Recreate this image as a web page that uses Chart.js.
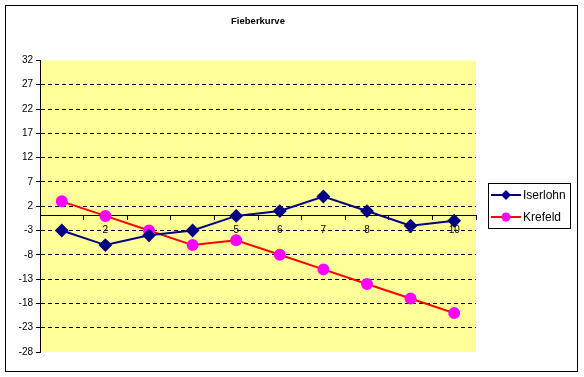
<!DOCTYPE html>
<html>
<head>
<meta charset="utf-8">
<script src="https://cdn.jsdelivr.net/npm/chart.js@4"></script>
<style>
  body { margin: 0; background: #fff; }
  canvas { display: block; }
</style>
</head>
<body>
<canvas id="fieberChart" width="584" height="377"></canvas>
<script>
"use strict";

const categories = ['1', '2', '3', '4', '5', '6', '7', '8', '9', '10'];
const iserlohn = [-3, -6, -4, -3, 0, 1, 4, 1, -2, -1];
const krefeld = [3, 0, -3, -6, -5, -8, -11, -14, -17, -20];
const yMin = -28;
const yMax = 32;
const yStep = 5;

const FONT = "'Liberation Sans', Arial, sans-serif";

// yellow plot area + outer frame + legend box (Excel look)
const excelFrame = {
  id: 'excelFrame',
  beforeDraw: (chart) => {
    const { ctx, chartArea } = chart;
    ctx.save();
    ctx.fillStyle = '#ffff99';
    ctx.fillRect(chartArea.left, chartArea.top, chartArea.right - chartArea.left, chartArea.bottom - chartArea.top);
    ctx.restore();
  },
  afterDraw: (chart) => {
    const { ctx } = chart;
    ctx.save();
    ctx.strokeStyle = '#000';
    ctx.lineWidth = 1;
    ctx.strokeRect(5.5, 5.5, 572, 366);

    // legend
    const lx = 488, ly = 183, lw = 82, lh = 45;
    ctx.fillStyle = '#fff';
    ctx.fillRect(lx, ly, lw, lh);
    ctx.strokeRect(lx + 0.5, ly + 0.5, lw, lh);
    ctx.font = '12px ' + FONT;
    ctx.textBaseline = 'middle';
    chart.data.datasets.forEach((ds, i) => {
      const y = ly + 12 + i * 22;
      ctx.strokeStyle = ds.borderColor;
      ctx.lineWidth = 2;
      ctx.beginPath();
      ctx.moveTo(lx + 3, y);
      ctx.lineTo(lx + 33, y);
      ctx.stroke();
      ctx.fillStyle = ds.pointBackgroundColor;
      ctx.beginPath();
      if (ds.pointStyle === 'rectRot') {
        ctx.moveTo(lx + 18, y - 5);
        ctx.lineTo(lx + 23, y);
        ctx.lineTo(lx + 18, y + 5);
        ctx.lineTo(lx + 13, y);
        ctx.closePath();
      } else {
        ctx.arc(lx + 18, y, 4.5, 0, Math.PI * 2);
      }
      ctx.fill();
      ctx.fillStyle = '#000';
      ctx.fillText(ds.label, lx + 35, y + 1);
    });
    ctx.restore();
  }
};

const ctxFieber = document.getElementById('fieberChart');
new Chart(ctxFieber, {
  type: 'line',
  data: {
    labels: categories,
    datasets: [{
      label: 'Iserlohn',
      data: iserlohn,
      borderColor: '#000080',
      backgroundColor: '#000080',
      pointBackgroundColor: '#000080',
      pointBorderColor: '#000080',
      pointStyle: 'rectRot',
      pointRadius: 5.5,
      borderWidth: 2,
      tension: 0
    }, {
      label: 'Krefeld',
      data: krefeld,
      borderColor: '#ff0000',
      backgroundColor: '#ff00ff',
      pointBackgroundColor: '#ff00ff',
      pointBorderColor: '#ff00ff',
      pointStyle: 'circle',
      pointRadius: 5,
      borderWidth: 2,
      tension: 0
    }]
  },
  options: {
    responsive: false,
    animation: false,
    layout: {
      padding: { top: 0, left: 0, right: 108, bottom: 25 }
    },
    plugins: {
      legend: { display: false },
      tooltip: { enabled: false },
      title: {
        display: true,
        text: 'Fieberkurve',
        fullSize: false,
        color: '#000',
        font: { family: FONT, size: 9.5, weight: 'bold' },
        padding: { top: 16, bottom: 33 }
      }
    },
    scales: {
      x: {
        position: { y: 0 },
        offset: true,
        border: { display: true, color: '#000', width: 1 },
        grid: {
          display: true,
          offset: true,
          drawOnChartArea: false,
          drawTicks: true,
          tickLength: 4,
          tickColor: '#000'
        },
        ticks: {
          color: '#000',
          padding: 4,
          maxRotation: 0,
          autoSkip: false,
          font: { family: FONT, size: 10 }
        }
      },
      y: {
        min: yMin,
        max: yMax,
        afterFit: (scale) => { scale.width = 40; },
        border: { display: true, color: '#000', width: 1, dash: [4, 3] },
        grid: {
          color: (c) => (c.tick && (c.tick.value === yMin || c.tick.value === yMax)) ? 'rgba(0,0,0,0)' : '#000',
          tickColor: '#000',
          tickBorderDash: [],
          tickLength: 4,
          lineWidth: 1
        },
        ticks: {
          stepSize: yStep,
          color: '#000',
          padding: 3,
          font: { family: FONT, size: 10 }
        }
      }
    }
  },
  plugins: [excelFrame]
});
</script>
</body>
</html>
